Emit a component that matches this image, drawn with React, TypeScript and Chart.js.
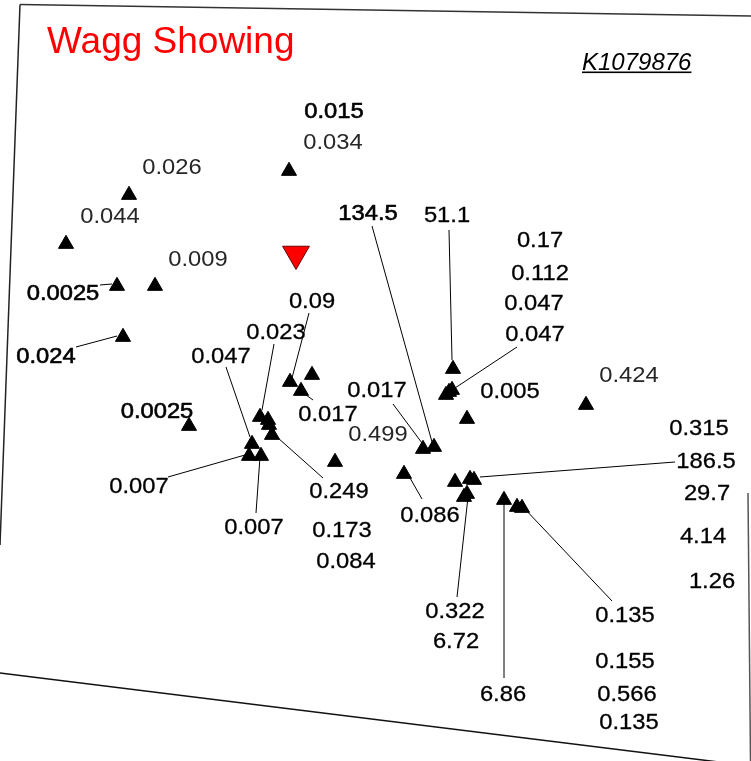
import React, { useEffect, useRef } from "react";
import { Chart, registerables } from "chart.js";

Chart.register(...registerables);

// Sample sites (map coordinates, y measured downward)
const siteX = [289, 129, 66, 117, 155, 123, 189, 290, 312, 301, 260, 268, 269, 272, 252, 249, 261, 335, 453, 449, 446, 452, 467, 423, 434, 404, 455, 470, 474, 467, 464, 504, 517, 522, 586];
const siteY = [171, 195, 244, 286, 286, 337, 426, 382, 375, 391, 417, 420, 425, 435, 444, 456, 456, 462, 369, 392, 395, 390, 419, 449, 447, 474, 482, 479, 480, 494, 497, 500, 507, 508, 405];

// Showing marker
const showingX = [296];
const showingY = [254];

// Assay labels
const labelText = ["0.015", "0.034", "0.026", "0.044", "0.009", "0.0025", "0.024", "0.0025", "0.047", "0.023", "0.09", "0.017", "0.007", "0.007", "0.249", "0.173", "0.084", "134.5", "51.1", "0.17", "0.112", "0.047", "0.047", "0.005", "0.424", "0.017", "0.499", "0.086", "0.315", "186.5", "29.7", "4.14", "1.26", "0.322", "6.72", "6.86", "0.135", "0.155", "0.566", "0.135"];
const labelX = [334, 333, 172, 110, 198, 63, 46, 157, 221, 276, 312, 328, 139, 254, 339, 342, 346, 368, 447, 540, 540, 534, 535, 510, 629, 377, 378, 430, 699, 706, 707, 703, 712, 455, 456, 503, 625, 625, 627, 629];
const labelY = [110, 141, 166, 215, 258, 292, 355, 410, 355, 331, 300, 413, 485, 526, 490, 529, 560, 212, 214, 239, 272, 302, 333, 390, 374, 389, 433, 514, 427, 460, 492, 535, 580, 610, 640, 693, 614, 660, 693, 721];
// 0 = regular, 1 = light, 2 = heavy
const labelWeight = [2, 1, 1, 1, 1, 2, 2, 2, 0, 0, 0, 0, 0, 0, 0, 0, 0, 2, 0, 0, 0, 0, 0, 0, 1, 0, 1, 0, 0, 0, 0, 0, 0, 0, 0, 0, 0, 0, 0, 0];

// Leader lines: label end -> site
const leadX1 = [100, 76, 226, 274, 309, 313, 168, 256, 323, 372, 449, 517, 393, 422, 675, 457, 504, 612];
const leadY1 = [285, 347, 367, 344, 313, 400, 477, 513, 478, 226, 230, 347, 404, 499, 462, 597, 678, 601];
const leadX2 = [112, 117, 250, 262, 292, 302, 245, 260, 278, 432, 452, 455, 422, 410, 480, 468, 504, 523];
const leadY2 = [284, 336, 437, 410, 378, 392, 455, 457, 438, 442, 360, 388, 443, 478, 477, 497, 500, 507];

// Map frame edges
const frameTopX = [20, 751];
const frameTopY = [4.5, 16];
const frameLeftX = [20, 0];
const frameLeftY = [4.5, 545];
const frameBottomX = [0, 751];
const frameBottomY = [673, 766];
const frameRightX = [748, 750.5];
const frameRightY = [493, 761];

const titleText = "Wagg Showing";
const claimText = "K1079876";

const pts = (xs: number[], ys: number[]) => xs.map((x, i) => ({ x, y: ys[i] }));

const annotPlugin = {
  id: "annot",
  beforeDatasetsDraw(chart: any) {
    const { ctx, scales } = chart;
    const sx = scales.x, sy = scales.y;
    ctx.save();
    ctx.strokeStyle = "#000";
    ctx.lineWidth = 1;
    for (let i = 0; i < leadX1.length; i++) {
      ctx.beginPath();
      ctx.moveTo(sx.getPixelForValue(leadX1[i]), sy.getPixelForValue(leadY1[i]));
      ctx.lineTo(sx.getPixelForValue(leadX2[i]), sy.getPixelForValue(leadY2[i]));
      ctx.stroke();
    }
    ctx.restore();
  },
  afterDatasetsDraw(chart: any) {
    const { ctx, scales } = chart;
    const sx = scales.x, sy = scales.y;
    ctx.save();
    ctx.font = '22px "Liberation Sans", Arial, sans-serif';
    ctx.textAlign = "center";
    ctx.textBaseline = "alphabetic";
    ctx.lineJoin = "round";
    for (let i = 0; i < labelText.length; i++) {
      const px = sx.getPixelForValue(labelX[i]);
      const py = sy.getPixelForValue(labelY[i]);
      ctx.save();
      ctx.translate(px, py);
      ctx.scale(1.08, 1);
      const wgt = labelWeight[i];
      const col = wgt === 1 ? "#262626" : "#000";
      ctx.fillStyle = col;
      ctx.strokeStyle = col;
      ctx.fillText(labelText[i], 0, 8);
      if (wgt !== 1) {
        ctx.lineWidth = wgt === 2 ? 0.6 : 0.3;
        ctx.strokeText(labelText[i], 0, 8);
      }
      ctx.restore();
    }
    // title
    ctx.textAlign = "left";
    ctx.fillStyle = "#ff0000";
    ctx.font = '37px "Liberation Sans", Arial, sans-serif';
    ctx.fillText(titleText, 47, 53);
    // claim number
    ctx.fillStyle = "#000";
    ctx.font = 'italic 24px "Liberation Sans", Arial, sans-serif';
    ctx.fillText(claimText, 582, 69.5);
    const w = ctx.measureText(claimText).width;
    ctx.fillRect(582, 71.5, w, 1.6);
    ctx.restore();
  },
};

export default function App() {
  const ref = useRef<HTMLCanvasElement | null>(null);
  useEffect(() => {
    if (!ref.current) return;
    const frameDs = (xs: number[], ys: number[], color: string) => ({
      type: "line" as const,
      data: pts(xs, ys),
      borderColor: color,
      borderWidth: 1.5,
      pointRadius: 0,
      showLine: true,
      fill: false,
    });
    const chart = new Chart(ref.current, {
      type: "scatter",
      data: {
        datasets: [
          frameDs(frameTopX, frameTopY, "#333"),
          frameDs(frameLeftX, frameLeftY, "#222"),
          frameDs(frameBottomX, frameBottomY, "#111"),
          frameDs(frameRightX, frameRightY, "#555"),
          {
            data: pts(siteX, siteY),
            pointStyle: "triangle",
            pointRadius: 8.7,
            backgroundColor: "#000",
            borderColor: "#000",
            borderWidth: 1,
          },
          {
            data: pts(showingX, showingY),
            pointStyle: "triangle",
            rotation: 180,
            pointRadius: 15.5,
            backgroundColor: "#ff0000",
            borderColor: "#6a0000",
            borderWidth: 1,
          },
        ] as any,
      },
      options: {
        animation: false,
        responsive: true,
        maintainAspectRatio: false,
        layout: { padding: 0, autoPadding: false },
        events: [],
        plugins: { legend: { display: false }, tooltip: { enabled: false }, title: { display: false } },
        scales: {
          x: { type: "linear", min: 0, max: 751, display: false },
          y: { type: "linear", min: 0, max: 761, reverse: true, display: false },
        },
      },
      plugins: [annotPlugin],
    });
    return () => chart.destroy();
  }, []);
  return (
    <div style={{ position: "absolute", left: 0, top: 0, width: 751, height: 761, background: "#fff" }}>
      <canvas ref={ref} />
    </div>
  );
}
